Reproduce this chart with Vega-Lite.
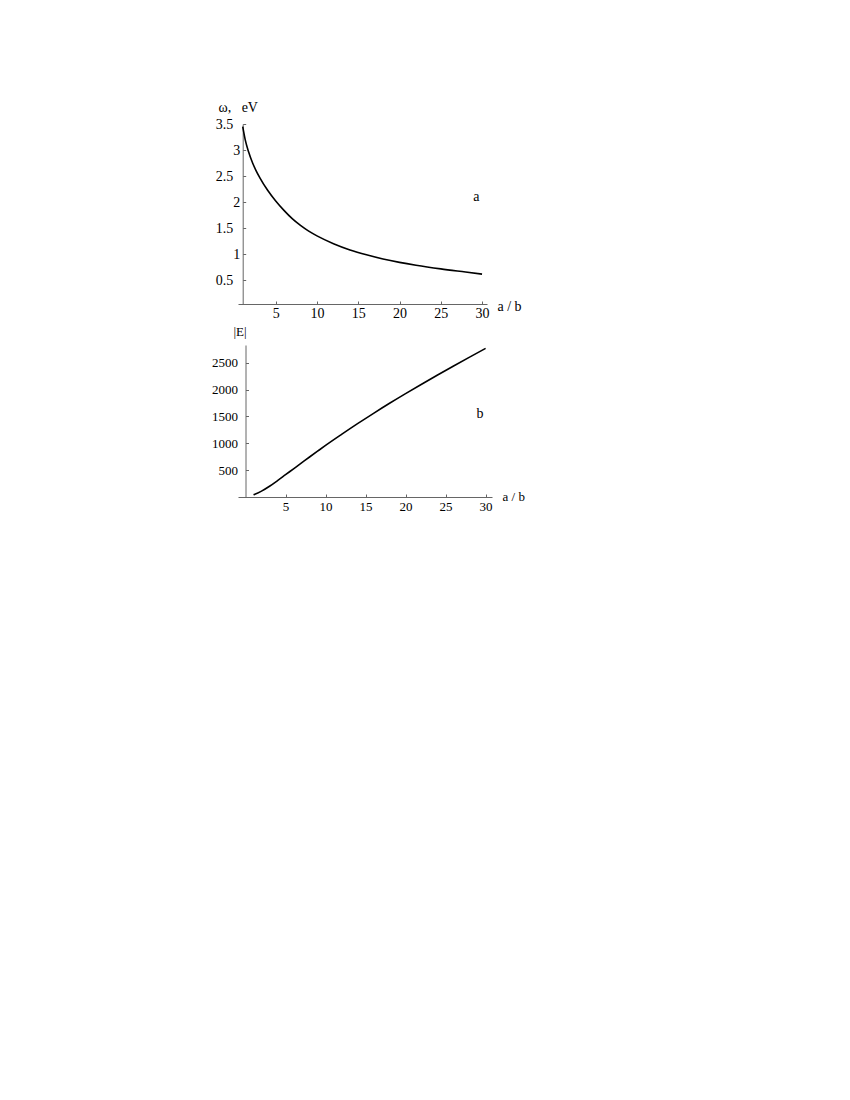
{
  "$schema": "https://vega.github.io/schema/vega-lite/v6.json",
  "background": "white",
  "padding": {"left": 211, "top": 100, "right": 5, "bottom": 5},
  "spacing": 5,
  "config": {
    "view": {"stroke": null},
    "font": "Liberation Serif",
    "axis": {
      "grid": false,
      "domainColor": "#666666",
      "domainWidth": 1,
      "tickColor": "#666666",
      "tickSize": -3,
      "tickCount": 30,
      "labelFont": "Liberation Serif",
      "titleFont": "Liberation Serif",
      "labelColor": "black",
      "titleColor": "black",
      "titleFontWeight": "normal",
      "labelFlush": false,
      "labelOverlap": false,
      "labelBound": false
    }
  },
  "datasets": {
    "omega": [
      {"ab": 1, "w": 3.45}, {"ab": 1.3, "w": 3.2}, {"ab": 1.7, "w": 2.97}, {"ab": 2.2, "w": 2.75},
      {"ab": 2.6, "w": 2.61}, {"ab": 3.1, "w": 2.46}, {"ab": 4, "w": 2.23}, {"ab": 5, "w": 2.02},
      {"ab": 6, "w": 1.84}, {"ab": 7, "w": 1.68}, {"ab": 8, "w": 1.55}, {"ab": 9, "w": 1.44},
      {"ab": 10, "w": 1.35}, {"ab": 12, "w": 1.2}, {"ab": 14, "w": 1.08}, {"ab": 16, "w": 0.985},
      {"ab": 18, "w": 0.905}, {"ab": 20, "w": 0.84}, {"ab": 22, "w": 0.785}, {"ab": 25, "w": 0.715},
      {"ab": 28, "w": 0.655}, {"ab": 30, "w": 0.615}
    ],
    "field": [
      {"ab": 1, "E": 40}, {"ab": 2, "E": 110}, {"ab": 3, "E": 200}, {"ab": 4, "E": 305},
      {"ab": 5, "E": 415}, {"ab": 6, "E": 525}, {"ab": 7, "E": 635}, {"ab": 8, "E": 745},
      {"ab": 9, "E": 853}, {"ab": 10, "E": 960}, {"ab": 12, "E": 1165}, {"ab": 14, "E": 1365},
      {"ab": 16, "E": 1558}, {"ab": 18, "E": 1745}, {"ab": 20, "E": 1925}, {"ab": 22, "E": 2100},
      {"ab": 24, "E": 2272}, {"ab": 26, "E": 2440}, {"ab": 28, "E": 2605}, {"ab": 30, "E": 2768}
    ],
    "labelA": [{"ab": 29.3, "w": 2.1, "t": "a"}],
    "labelB": [{"ab": 29.3, "E": 1544, "t": "b"}]
  },
  "vconcat": [
    {
      "width": 249,
      "height": 180,
      "layer": [
        {
          "data": {"name": "omega"},
          "mark": {"type": "line", "color": "black", "strokeWidth": 1.6, "interpolate": "monotone"},
          "encoding": {
            "x": {
              "field": "ab", "type": "quantitative",
              "scale": {"domain": [0.43, 30.6], "nice": false, "zero": false},
              "axis": {
                "values": [5, 10, 15, 20, 25, 30],
                "tickCount": 30,
                "labelOverlap": false,
                "labelFontSize": 14,
                "labelPadding": 5,
                "title": "a / b",
                "titleFontSize": 14,
                "titleAlign": "left",
                "titleBaseline": "alphabetic",
                "titleX": 259,
                "titleY": 6
              }
            },
            "y": {
              "field": "w", "type": "quantitative",
              "scale": {"domain": [0.04, 3.5], "nice": false, "zero": false},
              "axis": {
                "values": [0.5, 1, 1.5, 2, 2.5, 3, 3.5],
                "tickCount": 30,
                "format": "~g",
                "labelOverlap": false,
                "offset": -4.7,
                "labelFontSize": 14,
                "labelPadding": {"condition": {"test": "datum.value % 1 != 0", "value": 13}, "value": 6},
                "title": "ω,\u00a0\u00a0 eV",
                "titleFontSize": 14,
                "titleAngle": 0,
                "titleAlign": "center",
                "titleBaseline": "alphabetic",
                "titleX": -5,
                "titleY": -13
              }
            }
          }
        },
        {
          "data": {"name": "labelA"},
          "mark": {"type": "text", "fontSize": 14, "font": "Liberation Serif", "color": "black"},
          "encoding": {
            "x": {"field": "ab", "type": "quantitative"},
            "y": {"field": "w", "type": "quantitative"},
            "text": {"field": "t"}
          }
        }
      ]
    },
    {
      "width": 254,
      "height": 152,
      "layer": [
        {
          "data": {"name": "field"},
          "mark": {"type": "line", "color": "black", "strokeWidth": 1.6, "interpolate": "monotone"},
          "encoding": {
            "x": {
              "field": "ab", "type": "quantitative",
              "scale": {"domain": [-0.94, 30.8], "nice": false, "zero": false},
              "axis": {
                "values": [5, 10, 15, 20, 25, 30],
                "tickCount": 30,
                "labelOverlap": false,
                "labelFontSize": 13,
                "labelPadding": 6,
                "title": "a / b",
                "titleFontSize": 13,
                "titleAlign": "left",
                "titleBaseline": "alphabetic",
                "titleX": 264,
                "titleY": 3
              }
            },
            "y": {
              "field": "E", "type": "quantitative",
              "scale": {"domain": [0, 2830], "nice": false, "zero": false},
              "axis": {
                "values": [500, 1000, 1500, 2000, 2500],
                "tickCount": 30,
                "format": "d",
                "labelOverlap": false,
                "offset": -7.5,
                "labelFontSize": 13,
                "labelPadding": 11,
                "title": "|E|",
                "titleFontSize": 13,
                "titleAngle": 0,
                "titleAlign": "center",
                "titleBaseline": "alphabetic",
                "titleX": -6,
                "titleY": -10
              }
            }
          }
        },
        {
          "data": {"name": "labelB"},
          "mark": {"type": "text", "fontSize": 14, "font": "Liberation Serif", "color": "black"},
          "encoding": {
            "x": {"field": "ab", "type": "quantitative"},
            "y": {"field": "E", "type": "quantitative"},
            "text": {"field": "t"}
          }
        }
      ]
    }
  ]
}
